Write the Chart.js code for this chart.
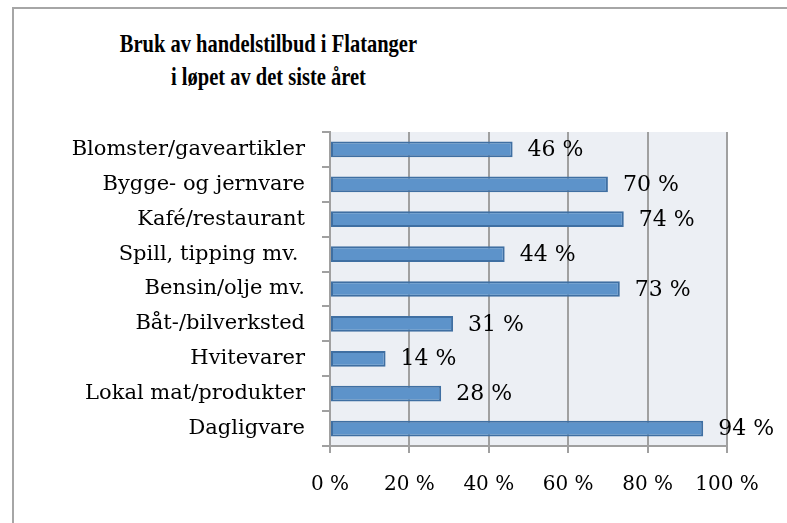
<!doctype html>
<html>
<head>
<meta charset="utf-8">
<title>Bruk av handelstilbud i Flatanger</title>
<script src="https://cdn.jsdelivr.net/npm/chart.js@4.4.0/dist/chart.umd.min.js"></script>
<style>
	body { margin: 0; background: #fff; }
	#frame {
		position: absolute; left: 12px; top: 7px; width: 800px; height: 540px;
		border-left: 2px solid #a6a6a6; border-top: 2px solid #a6a6a6;
	}
	#title {
		position: absolute; left: 0; top: 27px; width: 537px; text-align: center;
		font: bold 25px "Liberation Serif", serif; line-height: 33px; color: #000;
		transform: scaleX(0.82); transform-origin: 268px 0;
	}
	#wrap { position: absolute; left: 0; top: 0; width: 787px; height: 523px; }
</style>
</head>
<body>
<div id="frame"></div>
<div id="title">Bruk av handelstilbud i Flatanger<br>i løpet av det siste året</div>
<div id="wrap"><canvas id="canvas" width="787" height="523"></canvas></div>
<script>
	var categories = ['Blomster/gaveartikler', 'Bygge- og jernvare', 'Kafé/restaurant', 'Spill, tipping mv. ',
		'Bensin/olje mv.', 'Båt-/bilverksted', 'Hvitevarer', 'Lokal mat/produkter', 'Dagligvare'];
	var shares = [46, 70, 74, 44, 73, 31, 14, 28, 94];
	var xTicks = [0, 20, 40, 60, 80, 100];

	var serif = 'DejaVu Serif';

	// light panel behind the bars
	var plotBg = {
		id: 'plotBg',
		beforeDraw: function(chart) {
			var a = chart.chartArea, ctx = chart.ctx;
			ctx.save();
			ctx.fillStyle = '#eceff4';
			ctx.fillRect(a.left, a.top, a.right - a.left, a.bottom - a.top);
			ctx.restore();
		}
	};

	// value labels at the end of each bar
	var valueLabels = {
		id: 'valueLabels',
		afterDatasetsDraw: function(chart) {
			var ctx = chart.ctx;
			var meta = chart.getDatasetMeta(0);
			ctx.save();
			ctx.font = '22px "' + serif + '"';
			ctx.fillStyle = '#000';
			ctx.textAlign = 'left';
			ctx.textBaseline = 'middle';
			meta.data.forEach(function(bar, i) {
				ctx.fillText(shares[i] + ' %', bar.x + 15, bar.y + 1);
			});
			ctx.restore();
		}
	};

	var ctx = document.getElementById('canvas').getContext('2d');
	new Chart(ctx, {
		type: 'bar',
		data: {
			labels: categories,
			datasets: [{
				data: shares,
				backgroundColor: '#5d93ca',
				borderColor: '#3f6fa2',
				borderWidth: 2,
				borderSkipped: false,
				categoryPercentage: 1,
				barPercentage: 0.45
			}]
		},
		options: {
			indexAxis: 'y',
			responsive: false,
			animation: false,
			layout: { padding: { top: 132, right: 60, bottom: 0, left: 0 } },
			plugins: {
				legend: { display: false },
				tooltip: { enabled: false },
				title: { display: false }
			},
			scales: {
				x: {
					min: 0,
					max: 100,
					afterBuildTicks: function(scale) {
						scale.ticks = xTicks.map(function(v) { return { value: v }; });
					},
					afterFit: function(scale) { scale.height = 77; },
					grid: { color: '#a0a0a0', lineWidth: 2, tickLength: 7, drawTicks: true },
					border: { color: '#a0a0a0', width: 2 },
					ticks: {
						color: '#000',
						padding: 20,
						maxRotation: 0,
						font: { family: serif, size: 20 },
						callback: function(v) { return v + ' %'; }
					}
				},
				y: {
					afterFit: function(scale) { scale.width = 330; },
					grid: { drawOnChartArea: false, color: '#a0a0a0', lineWidth: 2, tickLength: 8, offset: true },
					border: { color: '#a0a0a0', width: 2 },
					ticks: {
						color: '#000',
						padding: 17,
						font: { family: serif, size: 21 }
					}
				}
			}
		},
		plugins: [plotBg, valueLabels]
	});
</script>
</body>
</html>
